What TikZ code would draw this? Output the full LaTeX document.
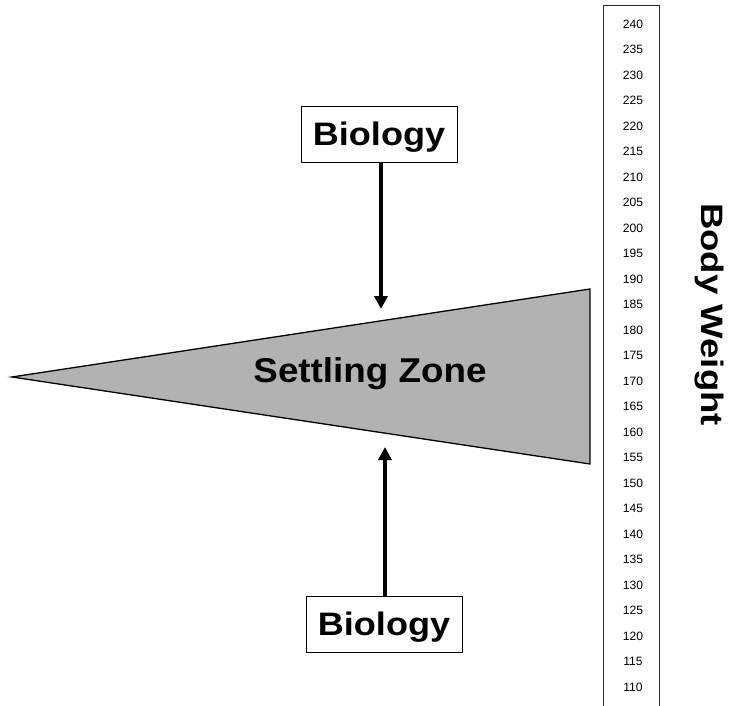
\documentclass[tikz,border=0pt]{standalone}
\usepackage{fontspec}
\setmainfont{Liberation Sans}
\newfontfamily\bioFont[FakeStretch=1.11]{Liberation Sans}
\newfontfamily\zoneFont[FakeStretch=1.07]{Liberation Sans}
\newfontfamily\weightFont[FakeStretch=1.18]{Liberation Sans}
\usetikzlibrary{arrows.meta}
\begin{document}
\begin{tikzpicture}[x=1pt,y=-1pt,
  biobox/.style={draw=black,line width=0.9pt,fill=white,inner sep=0pt,text depth=0pt,minimum width=156pt,minimum height=56pt,font=\bioFont\fontsize{32.5}{36}\selectfont\bfseries},
  bioarrow/.style={line width=3.3pt,-{Triangle[length=13pt,width=13pt]}},
  tick/.style={font=\fontsize{12.1}{14}\selectfont,inner sep=0pt}]
\useasboundingbox (0,0) rectangle (739,706);
% settling zone wedge
\coordinate (tip) at (12,377);
\coordinate (tr) at (590,289);
\coordinate (br) at (590,464);
\draw[fill=black!30,line width=1.3pt,line join=miter] (tip) -- (tr) -- (br) -- cycle;
\node[inner sep=0pt,text depth=0pt,font=\zoneFont\fontsize{34.4}{38}\selectfont\bfseries] (zone) at (370,370) {Settling Zone};
% biology boxes
\node[biobox] (bio1) at (379,134) {Biology};
\node[biobox] (bio2) at (384,624) {Biology};
\coordinate (a1) at (381,309);
\coordinate (a2) at (385,447);
\draw[bioarrow] (bio1.south -| a1) -- (a1);
\draw[bioarrow] (bio2.north -| a2) -- (a2);
% ruler
\coordinate (rl) at (603,706);
\coordinate (rtl) at (603,5);
\coordinate (rtr) at (659.5,5);
\coordinate (rr) at (659.5,706);
\draw[line width=0.9pt,black!85] (rl) -- (rtl) -- (rtr) -- (rr);
\foreach \i in {0,...,26}{
  \pgfmathtruncatemacro{\v}{240-5*\i}
  \node[tick] (t\i) at (633,{24+25.5*\i}) {\v};
}
\node[rotate=-90,inner sep=0pt,text depth=0pt,font=\weightFont\fontsize{31}{34}\selectfont\bfseries] (bw) at (713,314.5) {Body Weight};
\end{tikzpicture}
\end{document}
